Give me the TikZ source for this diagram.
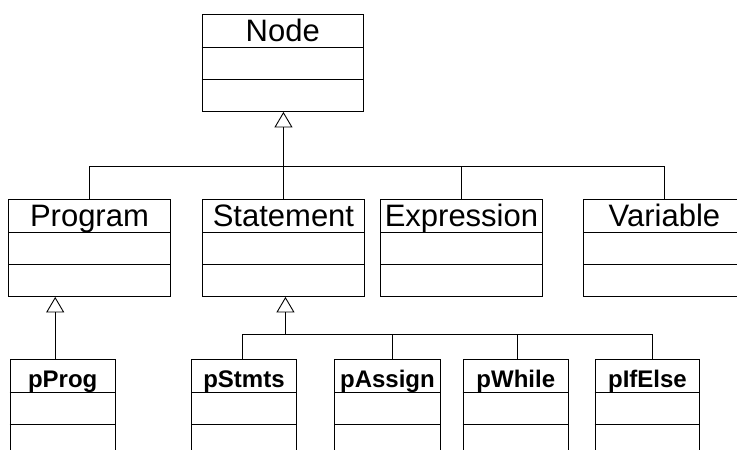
\documentclass[tikz,border=0pt]{standalone}
\usepackage{fontspec}
\setmainfont{Liberation Sans}
\usetikzlibrary{arrows.meta}
\begin{document}
\begin{tikzpicture}[x=1pt,y=-1pt,
  classbox/.style={draw=black,line width=0.9pt,rectangle,inner sep=0pt,anchor=north west,minimum height=97pt},
  bigname/.style={inner sep=0pt,anchor=base,font=\fontsize{31}{36}\selectfont},
  smallname/.style={inner sep=0pt,anchor=base,font=\fontsize{24}{28}\selectfont\bfseries},
  conn/.style={draw=black,line width=0.9pt},
  inh/.style={conn,-{Triangle[open,width=18pt,length=15.5pt,line width=0.9pt]}}]
\useasboundingbox (0,0) rectangle (737,450);
\clip (0,0) rectangle (737,450);
% classes
\newcommand\umlclass[6]{%
  \node[classbox,minimum width=#4pt] (#1) at (#2,#3) {};
  \draw[conn] ([yshift=-33pt]#1.north west) -- ([yshift=-33pt]#1.north east);
  \draw[conn] ([yshift=-65pt]#1.north west) -- ([yshift=-65pt]#1.north east);
  \node[#6] (#1-label) at ([yshift=-27.8pt]#1.north) {#5};}
\umlclass{Node}{201.5}{14}{161.5}{Node}{bigname}
\umlclass{Program}{8}{199}{162}{Program}{bigname}
\umlclass{Statement}{202}{199}{162}{Statement}{bigname}
\umlclass{Expression}{380}{199}{162}{Expression}{bigname}
\umlclass{Variable}{583}{199}{162}{Variable}{bigname}
\umlclass{pProg}{9.5}{359.3}{105.5}{pProg}{smallname}
\umlclass{pStmts}{191}{359.3}{105}{pStmts}{smallname}
\umlclass{pAssign}{334}{359.3}{106}{pAssign}{smallname}
\umlclass{pWhile}{462.7}{359.3}{105.3}{pWhile}{smallname}
\umlclass{pIfElse}{594.7}{359.3}{104.6}{pIfElse}{smallname}
% buses
\coordinate (bus1) at (0,166.7);
\coordinate (bus2) at (0,334.3);
% first level
\draw[inh] (Statement.north) -- (Statement.north |- Node.south);
\draw[conn] (Program.north) |- (bus1 -| Variable.north) -- (Variable.north);
\draw[conn] (Expression.north) -- (Expression.north |- bus1);
% Program -> pProg
\draw[inh] ([xshift=-7.5pt]pProg.north) -- ([xshift=-7.5pt]pProg.north |- Program.south);
% Statement -> statements
\coordinate (cS) at ([xshift=-1.5pt]pStmts.north);
\coordinate (cA) at ([xshift=5pt]pAssign.north);
\coordinate (cW) at ([xshift=1.6pt]pWhile.north);
\coordinate (cI) at ([xshift=4.7pt]pIfElse.north);
\draw[conn] (cS) |- (bus2 -| cI) -- (cI);
\draw[conn] (cA) -- (cA |- bus2);
\draw[conn] (cW) -- (cW |- bus2);
\draw[inh] ([xshift=2pt]Statement.south |- bus2) -- ([xshift=2pt]Statement.south);
\end{tikzpicture}
\end{document}
